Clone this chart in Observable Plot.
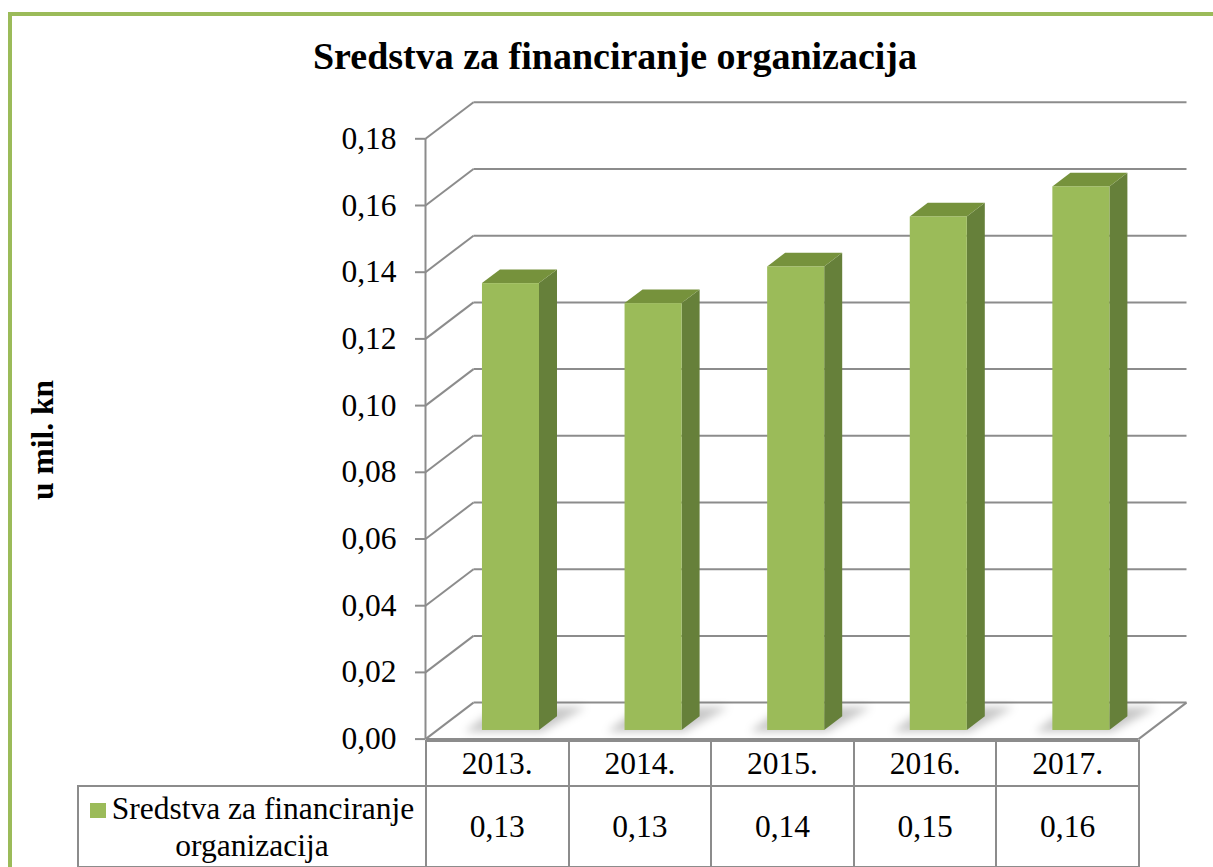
<!DOCTYPE html>
<html><head><meta charset="utf-8">
<script src="https://cdn.jsdelivr.net/npm/d3@7"></script>
<script src="https://cdn.jsdelivr.net/npm/@observablehq/plot@0.6"></script>
<style>
html,body{margin:0;padding:0;background:#fff;overflow:hidden;}
#wrap{position:relative;width:1213px;height:867px;overflow:hidden;font-family:"Liberation Serif","Times New Roman",serif;color:#000;}
#frame{position:absolute;left:8px;top:12px;width:1300px;height:1000px;border-top:4.5px solid #9bbb59;border-left:4.5px solid #9bbb59;}
#chart{position:absolute;left:0;top:0;}
#chart text{font-family:"Liberation Serif","Times New Roman",serif !important;}
#title{position:absolute;left:215px;width:800px;top:36px;text-align:center;font-weight:bold;font-size:38px;line-height:40px;white-space:nowrap;}
#ylabel{position:absolute;left:43px;top:440px;transform:translate(-50%,-50%) rotate(-90deg);font-weight:bold;font-size:31.5px;white-space:nowrap;line-height:32px;}
#tbl{position:absolute;left:77px;top:740px;border-collapse:collapse;table-layout:fixed;font-size:31.5px;font-family:"Liberation Serif","Times New Roman",serif;}
#tbl td{border:2px solid #8c8c8c;text-align:center;vertical-align:middle;padding:0;box-sizing:border-box;font-family:"Liberation Serif","Times New Roman",serif;}
#tbl td.empty{border:none;}
#tbl tr.h td{height:45px;line-height:32px;}
#tbl tr.v td{height:81px;line-height:37px;}
.sw{display:inline-block;width:16px;height:15px;background:#9bbb59;margin-right:6px;vertical-align:1px;}
.shadow{filter:blur(4px);}
</style></head><body><div id="wrap"><div id="frame"></div></div>
<script>
// ---- data ----
const title = "Sredstva za financiranje organizacija";
const yLabel = "u mil. kn";
const seriesName = "Sredstva za financiranje organizacija";
const years = ["2013.", "2014.", "2015.", "2016.", "2017."];
const values = [0.134, 0.128, 0.139, 0.154, 0.163];
const yTicks = [0, 0.02, 0.04, 0.06, 0.08, 0.10, 0.12, 0.14, 0.16, 0.18];

// ---- layout ----
const W = 1213, H = 867;
const left = 425, right = 1138, top0 = 138.3, base = 738.6;
const depthPx = 48, depthPy = 36.5;
const yMax = 0.18;
const n = years.length;
const DX = depthPx * n / (right - left);          // depth offset in x-data units
const DY = depthPy * yMax / (base - top0);        // depth offset in y-data units
const A = 0.32, BW = 0.40, F0 = 0.236, BD = 0.375; // bar offset, width, front depth, bar depth
const fmt = v => d3.format(".2f")(v).replace(".", ",");

const bars = values.map((v, i) => ({i, v, xl: i + A + F0 * DX, xr: i + A + BW + F0 * DX}));
const sideData = bars.flatMap(d => [
  {i: d.i, x: d.xr, y1: F0 * DY, y2: d.v + F0 * DY},
  {i: d.i, x: d.xr + BD * DX, y1: (F0 + BD) * DY, y2: d.v + (F0 + BD) * DY}
]);
const topData = bars.flatMap(d => [
  {i: d.i, y: d.v + F0 * DY, x1: d.xl, x2: d.xr},
  {i: d.i, y: d.v + (F0 + BD) * DY, x1: d.xl + BD * DX, x2: d.xr + BD * DX}
]);
const shadowData = bars.flatMap(d => [
  {i: d.i, y: (F0 - 0.05) * DY, x1: d.xl - 0.12, x2: d.xr + 0.02},
  {i: d.i, y: (F0 + BD + 0.25) * DY, x1: d.xl - 0.12 + (BD + 0.3) * DX, x2: d.xr + (BD + 0.3) * DX + 0.1}
]);

const grid = "#8c8c8c";
const serif = "'Liberation Serif','Times New Roman',serif";
const chart = Plot.plot({
  width: W, height: H,
  marginLeft: left, marginRight: W - right, marginTop: top0, marginBottom: H - base,
  x: {type: "linear", domain: [0, n], axis: null},
  y: {type: "linear", domain: [0, yMax]},
  style: {fontFamily: serif, background: "transparent", overflow: "visible"},
  marks: [
    // back wall gridlines
    Plot.link(yTicks, {x1: DX, x2: n + DX, y1: d => d + DY, y2: d => d + DY, stroke: grid, strokeWidth: 2}),
    // left wall diagonals
    Plot.link(yTicks, {x1: 0, x2: DX, y1: d => d, y2: d => d + DY, stroke: grid, strokeWidth: 2}),
    // floor front & right edge
    Plot.link([0], {x1: 0, x2: n, y1: 0, y2: 0, stroke: grid, strokeWidth: 2}),
    Plot.link([0], {x1: n, x2: n + DX, y1: 0, y2: DY, stroke: grid, strokeWidth: 2}),
    // axis line
    Plot.ruleX([0], {y1: 0, y2: yMax, stroke: grid, strokeWidth: 2}),
    Plot.axisY({ticks: yTicks, tickFormat: fmt, tickSize: 10, tickPadding: 19, fontSize: 31.5, fontFamily: serif, stroke: grid, strokeWidth: 2, fill: "black", label: null}),
    // shadows
    Plot.areaX(shadowData, {y: "y", x1: "x1", x2: "x2", z: "i", fill: "#000", fillOpacity: 0.22, className: "shadow"}),
    // bars
    Plot.areaY(sideData, {x: "x", y1: "y1", y2: "y2", z: "i", fill: "#66803a"}),
    Plot.areaX(topData, {y: "y", x1: "x1", x2: "x2", z: "i", fill: "#76923c"}),
    Plot.rect(bars, {x1: "xl", x2: "xr", y1: F0 * DY, y2: d => d.v + F0 * DY, fill: "#9bbb59"})
  ]
});
chart.id = "chart";
const wrap = document.getElementById("wrap");
wrap.appendChild(chart);

const t = document.createElement("div"); t.id = "title"; t.textContent = title; wrap.appendChild(t);
const yl = document.createElement("div"); yl.id = "ylabel"; yl.textContent = yLabel; wrap.appendChild(yl);

// data table
const colW = (right - left) / n;
const tbl = document.createElement("table"); tbl.id = "tbl";
const cg = document.createElement("colgroup");
[left - 77, ...years.map(() => colW)].forEach(w => { const c = document.createElement("col"); c.style.width = w + "px"; cg.appendChild(c); });
tbl.appendChild(cg);
const trh = document.createElement("tr"); trh.className = "h";
const e = document.createElement("td"); e.className = "empty"; trh.appendChild(e);
years.forEach(y => { const td = document.createElement("td"); td.textContent = y; trh.appendChild(td); });
tbl.appendChild(trh);
const trv = document.createElement("tr"); trv.className = "v";
const lg = document.createElement("td");
lg.innerHTML = '<span class="sw"></span>' + seriesName.replace(" organizacija", "<br>organizacija");
trv.appendChild(lg);
values.forEach(v => { const td = document.createElement("td"); td.textContent = fmt(v); trv.appendChild(td); });
tbl.appendChild(trv);
tbl.style.width = (right - 77) + "px";
wrap.appendChild(tbl);
</script></body></html>
